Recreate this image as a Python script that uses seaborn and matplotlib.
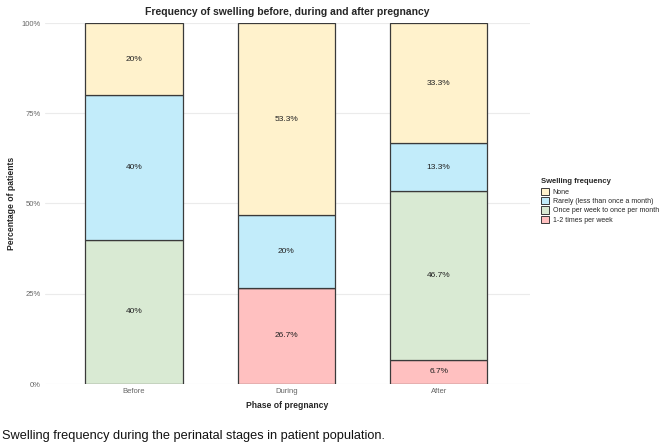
import numpy as np
import pandas as pd
import matplotlib.pyplot as plt
import seaborn as sns
from matplotlib.patches import Patch

# Data (percent of patients per phase)
phases = ["Before", "During", "After"]
freq_levels = ["1-2 times per week", "Once per week to once per month",
               "Rarely (less than once a month)", "None"]
pct_none = [20, 53.3, 33.3]
pct_rarely = [40, 20, 13.3]
pct_weekly_monthly = [40, 0, 46.7]
pct_1_2_week = [0, 26.7, 6.7]

series = {
    "1-2 times per week": pct_1_2_week,
    "Once per week to once per month": pct_weekly_monthly,
    "Rarely (less than once a month)": pct_rarely,
    "None": pct_none,
}
fill_colors = {
    "None": "#FFF2CC",
    "Rarely (less than once a month)": "#C2ECFA",
    "Once per week to once per month": "#D9EAD3",
    "1-2 times per week": "#FFC0C0",
}
edge = "#3A3A3A"

sns.set_theme(style="whitegrid")
plt.rcParams["font.family"] = ["Liberation Sans", "DejaVu Sans"]

fig = plt.figure(figsize=(6.69, 4.44), dpi=100)
ax = fig.add_axes([45 / 669, 60 / 444, (530 - 45) / 669, (384 - 23) / 444])

bottom = np.zeros(len(phases))
for level in freq_levels:
    vals = np.array(series[level], dtype=float)
    df = pd.DataFrame({"Phase": phases, "Value": vals})
    sns.barplot(data=df, x="Phase", y="Value", order=phases, bottom=bottom,
                color=fill_colors[level], saturation=1, edgecolor=edge,
                linewidth=0.9, width=0.64, ax=ax)
    for i, v in enumerate(vals):
        if v > 0:
            ax.text(i, bottom[i] + v / 2, f"{v:g}%", ha="center", va="center",
                    fontsize=6, color="#222222")
    bottom = bottom + vals

ax.set_xlim(-0.585, 2.6)
ax.set_ylim(0, 100)
ax.set_yticks([0, 25, 50, 75, 100])
ax.set_yticklabels(["0%", "25%", "50%", "75%", "100%"])
ax.tick_params(axis="both", labelsize=5.5, colors="#666666", length=0, pad=3)
ax.grid(axis="x", visible=False)
ax.grid(axis="y", color="#EBEBEB", linewidth=0.8)
for s in ax.spines.values():
    s.set_visible(False)
ax.set_xlabel("Phase of pregnancy", fontsize=6.2, fontweight="bold", labelpad=4)
ax.set_ylabel("Percentage of patients", fontsize=6.2, fontweight="bold", labelpad=4)
ax.set_title("Frequency of swelling before, during and after pregnancy",
             fontsize=7.5, fontweight="bold", pad=6)

handles = [Patch(facecolor=fill_colors[l], edgecolor=edge, linewidth=0.7, label=l)
           for l in ["None", "Rarely (less than once a month)",
                     "Once per week to once per month", "1-2 times per week"]]
leg = fig.legend(handles=handles, title="Swelling frequency", loc="upper left",
                 bbox_to_anchor=(538 / 669, 1 - 175 / 444), frameon=False,
                 fontsize=5, title_fontsize=5.5, handlelength=1.25, handleheight=1.25,
                 labelspacing=0.2, handletextpad=0.45, alignment="left",
                 borderaxespad=0)
leg.get_title().set_fontweight("bold")
leg._legend_box.sep = 2

fig.text(2 / 669, 1 - 436 / 444, "Swelling frequency during the perinatal stages in patient population.",
         fontsize=9.2, ha="left", va="center", color="#111111")

fig.savefig("out.png", dpi=100)
